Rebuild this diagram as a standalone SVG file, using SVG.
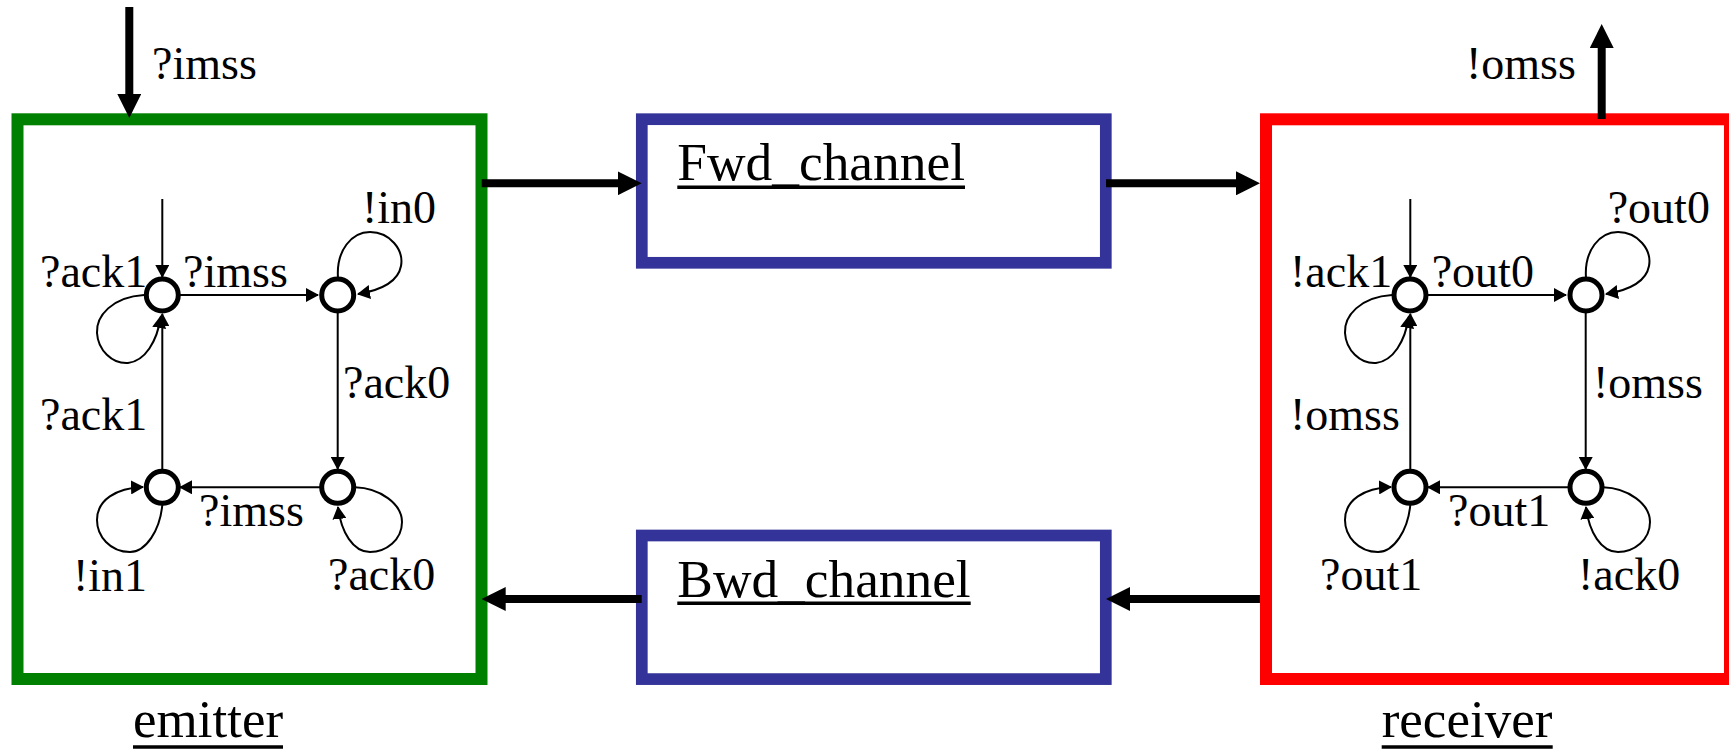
<svg xmlns="http://www.w3.org/2000/svg" width="1729" height="750" viewBox="0 0 1729 750">
  <style>
    .lbl { font-family: "Liberation Serif", "Times New Roman", serif; font-size: 46px; fill: #000; }
    .name { font-family: "Liberation Serif", "Times New Roman", serif; font-size: 53px; fill: #000; }
    .uline { stroke: #000; stroke-width: 3.5; }
    .state { fill: #fff; stroke: #000; stroke-width: 5; }
    .trans { fill: none; stroke: #000; stroke-width: 2; marker-end: url(#thin); }
    .flow { fill: none; stroke: #000; stroke-width: 8; marker-end: url(#thick); }
    .chan { fill: none; stroke: #333399; stroke-width: 11.7; }
  </style>
  <defs>
    <marker id="thick" markerUnits="userSpaceOnUse" markerWidth="24" markerHeight="24" refX="10" refY="12" orient="auto">
      <path d="M0,0 L24,12 L0,24 Z" fill="#000"/>
    </marker>
    <marker id="thin" markerUnits="userSpaceOnUse" markerWidth="14" markerHeight="14" refX="12" refY="7" orient="auto">
      <path d="M0,0 L13,7 L0,14 Z" fill="#000"/>
    </marker>
  </defs>
  <rect width="1729" height="750" fill="#fff"/>

  <!-- emitter process -->
  <g id="emitter">
    <rect x="17.5" y="119.3" width="464" height="559.7" fill="none" stroke="#008000" stroke-width="12"/>
    <text class="name" x="133" y="737">emitter</text>
    <line class="uline" x1="133" y1="747" x2="283" y2="747"/>
    <g id="emitter-transitions">
      <path class="trans" d="M162.3 199 V277"/>
      <path class="trans" d="M180 295 H318"/>
      <path class="trans" d="M337.7 313 V469"/>
      <path class="trans" d="M320 487.3 H180"/>
      <path class="trans" d="M162.3 470 V314"/>
      <path class="trans" d="M144 295 C112 297 96 316 97 333 C98 350 112 364 128 363 C145 361 157 342 161 316"/>
      <path class="trans" d="M338 278 C336 250 352 232 370 232 C390 232 404 250 401 266 C398 282 382 290 358 294"/>
      <path class="trans" d="M162.3 505 C160 530 146 552 130 552 C110 552 97 536 97 520 C97 500 116 488 143 487"/>
      <path class="trans" d="M355 487.3 C380 488 402 504 402 522 C402 540 386 552 370 552 C353 552 341 532 338 507"/>
    </g>
    <g id="emitter-states">
      <circle class="state" cx="162.3" cy="295" r="16"/>
      <circle class="state" cx="337.7" cy="295" r="16"/>
      <circle class="state" cx="162.3" cy="487.3" r="16"/>
      <circle class="state" cx="337.7" cy="487.3" r="16"/>
    </g>
    <g id="emitter-labels">
      <text class="lbl" x="40" y="287">?ack1</text>
      <text class="lbl" x="183" y="287">?imss</text>
      <text class="lbl" x="362" y="223">!in0</text>
      <text class="lbl" x="343" y="398">?ack0</text>
      <text class="lbl" x="40" y="430">?ack1</text>
      <text class="lbl" x="199" y="526">?imss</text>
      <text class="lbl" x="73" y="591">!in1</text>
      <text class="lbl" x="328" y="590">?ack0</text>
    </g>
  </g>

  <!-- forward channel -->
  <g id="fwd_channel">
    <rect class="chan" x="641.8" y="119.2" width="464" height="143.6"/>
    <text class="name" x="677.3" y="180" textLength="287.7" lengthAdjust="spacingAndGlyphs">Fwd_channel</text>
    <line class="uline" x1="677.3" y1="187.3" x2="965" y2="187.3"/>
  </g>

  <!-- backward channel -->
  <g id="bwd_channel">
    <rect class="chan" x="641.8" y="535.5" width="464" height="143.6"/>
    <text class="name" x="677.3" y="596.7" textLength="293.4" lengthAdjust="spacingAndGlyphs">Bwd_channel</text>
    <line class="uline" x1="677.3" y1="603.3" x2="970.7" y2="603.3"/>
  </g>

  <!-- receiver process -->
  <g id="receiver">
    <rect x="1266" y="119.3" width="464" height="559.7" fill="none" stroke="#ff0000" stroke-width="12"/>
    <text class="name" x="1381.7" y="737">receiver</text>
    <line class="uline" x1="1381.7" y1="747" x2="1552.7" y2="747"/>
    <g id="receiver-transitions" transform="translate(1248,0)">
      <path class="trans" d="M162.3 199 V277"/>
      <path class="trans" d="M180 295 H318"/>
      <path class="trans" d="M337.7 313 V469"/>
      <path class="trans" d="M320 487.3 H180"/>
      <path class="trans" d="M162.3 470 V314"/>
      <path class="trans" d="M144 295 C112 297 96 316 97 333 C98 350 112 364 128 363 C145 361 157 342 161 316"/>
      <path class="trans" d="M338 278 C336 250 352 232 370 232 C390 232 404 250 401 266 C398 282 382 290 358 294"/>
      <path class="trans" d="M162.3 505 C160 530 146 552 130 552 C110 552 97 536 97 520 C97 500 116 488 143 487"/>
      <path class="trans" d="M355 487.3 C380 488 402 504 402 522 C402 540 386 552 370 552 C353 552 341 532 338 507"/>
    </g>
    <g id="receiver-states">
      <circle class="state" cx="1410" cy="295" r="16"/>
      <circle class="state" cx="1586" cy="295" r="16"/>
      <circle class="state" cx="1410" cy="487.3" r="16"/>
      <circle class="state" cx="1586" cy="487.3" r="16"/>
    </g>
    <g id="receiver-labels">
      <text class="lbl" x="1290" y="287">!ack1</text>
      <text class="lbl" x="1431.7" y="287">?out0</text>
      <text class="lbl" x="1607.7" y="223">?out0</text>
      <text class="lbl" x="1593" y="398">!omss</text>
      <text class="lbl" x="1290" y="430">!omss</text>
      <text class="lbl" x="1448" y="526">?out1</text>
      <text class="lbl" x="1320" y="590">?out1</text>
      <text class="lbl" x="1578" y="590">!ack0</text>
    </g>
  </g>

  <!-- message flow between processes -->
  <g id="connectors">
    <path class="flow" d="M129.3 7 V104"/>
    <text class="lbl" x="152" y="79">?imss</text>
    <path class="flow" d="M481.7 183.3 H627.7"/>
    <path class="flow" d="M1106 183.3 H1246"/>
    <path class="flow" d="M1260 599 H1120"/>
    <path class="flow" d="M641.7 599 H495.7"/>
    <path class="flow" d="M1601.7 119 V38"/>
    <text class="lbl" x="1466" y="79">!omss</text>
  </g>
</svg>
